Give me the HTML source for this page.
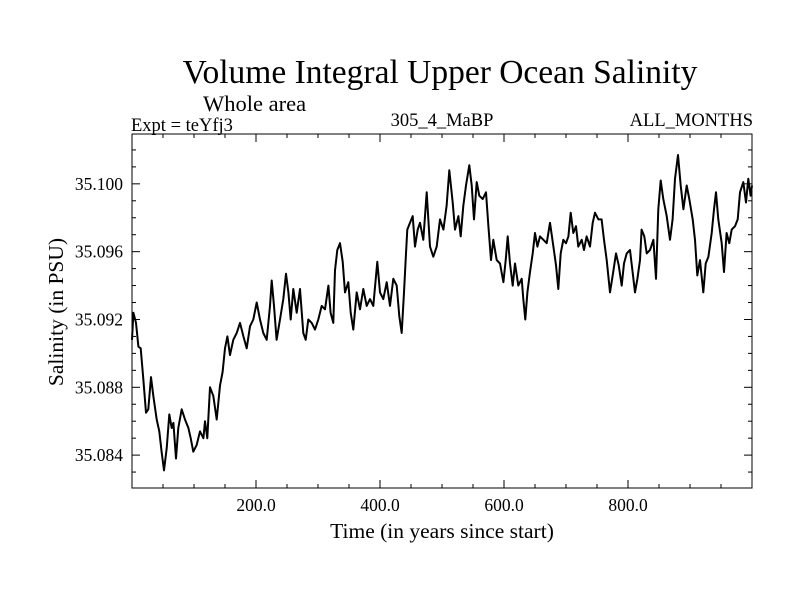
<!DOCTYPE html>
<html><head><meta charset="utf-8"><style>
html,body{margin:0;padding:0;background:#fff}
svg{display:block;font-family:"Liberation Serif",serif}
</style></head><body>
<svg id="chart" width="800" height="600">
<text x="440" y="83" text-anchor="middle" font-size="33.5">Volume Integral Upper Ocean Salinity</text>
<text x="203" y="111" font-size="22.5">Whole area</text>
<text x="131" y="131" font-size="18.5">Expt = teYfj3</text>
<text x="442" y="126" text-anchor="middle" font-size="18.5">305_4_MaBP</text>
<text x="753" y="126" text-anchor="end" font-size="18.5">ALL_MONTHS</text>
<text x="442" y="538" text-anchor="middle" font-size="21.5">Time (in years since start)</text>
<text transform="translate(63,312) rotate(-90)" text-anchor="middle" font-size="21.5">Salinity (in PSU)</text>
<g id="axes"></g>
<path id="series" fill="none" stroke="#000" stroke-width="2" stroke-linejoin="round"></path>
<rect x="132" y="134" width="620" height="354" fill="none" stroke="#000" stroke-width="1"></rect>
</svg>
<script>
const years = [0,2.2,6.5,10.3,14,18.3,22.6,26.3,30.6,34.4,39.8,44.1,47.8,51.6,55.9,60.2,64,66.7,71,74.7,80.1,85.5,90.9,94.6,98.9,104.3,109.7,115.1,117.7,121.5,125.8,131.2,136.6,141.9,146.2,150,153.8,158.1,163.4,168.8,174.2,179.6,185,190.3,195.7,201.1,206.5,211.8,217.2,222.6,225.3,229,233.3,238.7,244.1,248.4,252.2,255.9,260.2,265.6,271,276.3,280.1,284.4,289.8,295.2,300.5,305.9,311.3,316.7,320.4,324.7,327.4,331.2,335.5,339.8,343.5,348.9,352.7,357,362.4,367.7,373.1,378.5,383.9,389.2,395.7,400,405.4,410.8,416.1,421.5,426.9,431.2,435,438.7,441.9,444.1,448.4,452.7,456.5,460.8,464.5,469.9,475.3,480.6,486,491.4,496.8,502.2,507.5,511.8,517.2,521,526.4,530.1,534.4,538.7,544.1,547.9,551.6,556,560.2,565.6,571,574.8,579.1,582.8,588.2,593.6,599,602.7,606,609.7,614,617.8,623.1,628.5,631.2,634.4,637.7,642,646.3,650,653.8,658.1,663.5,668.8,674.2,679.6,683.9,687.6,691.4,695.7,700,703.8,707.5,711.8,716.1,719.9,725.3,729,733.3,738.7,743,746.8,752.2,757.5,761.3,765.6,771,775.3,780.7,785,789.8,793.6,797.9,803.2,807.5,811.3,815.1,819.4,822,826.3,830.1,835.5,840.9,845.2,848.9,852.7,857,862.4,867.7,872,875.8,880.6,885,889.3,894.6,898.9,904.3,908.1,911.8,916.1,921.5,925.3,929.6,935,938.7,942,945.7,951.1,954.8,959.1,963.4,967.2,972.6,976.9,980.6,986,990.3,994.1,997.8,1000];
const salinity = [35.0908,35.0924,35.0918,35.0904,35.0903,35.0885,35.0865,35.0867,35.0886,35.0875,35.0861,35.0854,35.0842,35.0831,35.0844,35.0864,35.0856,35.0859,35.0838,35.0856,35.0867,35.0861,35.0856,35.0850,35.0842,35.0846,35.0854,35.0850,35.0860,35.0850,35.0880,35.0875,35.0861,35.0881,35.0889,35.0903,35.0910,35.0899,35.0908,35.0912,35.0918,35.0910,35.0903,35.0916,35.0920,35.0930,35.0920,35.0912,35.0908,35.0928,35.0943,35.0928,35.0908,35.0920,35.0932,35.0947,35.0936,35.0920,35.0938,35.0924,35.0938,35.0912,35.0908,35.0920,35.0918,35.0914,35.0920,35.0928,35.0926,35.0940,35.0924,35.0918,35.0949,35.0961,35.0965,35.0954,35.0936,35.0942,35.0924,35.0914,35.0936,35.0926,35.0938,35.0928,35.0932,35.0928,35.0954,35.0936,35.0932,35.0942,35.0928,35.0944,35.0940,35.0922,35.0912,35.0936,35.0959,35.0973,35.0977,35.0981,35.0963,35.0973,35.0977,35.0967,35.0995,35.0963,35.0957,35.0963,35.0979,35.0973,35.0987,35.1008,35.0989,35.0973,35.0981,35.0969,35.0987,35.0999,35.1011,35.0999,35.0979,35.1001,35.0993,35.0991,35.0995,35.0975,35.0955,35.0967,35.0955,35.0953,35.0942,35.0955,35.0969,35.0953,35.0940,35.0953,35.0940,35.0944,35.0932,35.0920,35.0936,35.0948,35.0959,35.0971,35.0963,35.0969,35.0967,35.0965,35.0977,35.0963,35.0952,35.0938,35.0959,35.0967,35.0965,35.0969,35.0983,35.0971,35.0975,35.0963,35.0967,35.0961,35.0969,35.0963,35.0977,35.0983,35.0979,35.0979,35.0967,35.0955,35.0936,35.0946,35.0959,35.0952,35.0940,35.0953,35.0959,35.0961,35.0948,35.0936,35.0944,35.0955,35.0973,35.0969,35.0959,35.0961,35.0967,35.0944,35.0985,35.1002,35.0991,35.0981,35.0967,35.0979,35.1003,35.1017,35.0999,35.0985,35.0999,35.0991,35.0979,35.0967,35.0946,35.0955,35.0936,35.0953,35.0957,35.0971,35.0985,35.0995,35.0979,35.0965,35.0948,35.0971,35.0965,35.0973,35.0975,35.0979,35.0995,35.1001,35.0989,35.1003,35.0993,35.0999];
const xTicks = [200,400,600,800];
const xTickLabels = ["200.0","400.0","600.0","800.0"];
const yTicks = [35.084,35.088,35.092,35.096,35.100];
const yTickLabels = ["35.084","35.088","35.092","35.096","35.100"];

const L=132,R=752,T=134,B=488;
const X0=0,X1=1000,Y0=35.08206,Y1=35.10294;
function xs(v){return L+(v-X0)/(X1-X0)*(R-L);}
function ys(v){return B-(v-Y0)/(Y1-Y0)*(B-T);}
const NS="http://www.w3.org/2000/svg";
const axes=document.getElementById('axes');
function line(x1,y1,x2,y2,name){
  const l=document.createElementNS(NS,'line');
  l.setAttribute('x1',x1);l.setAttribute('y1',y1);l.setAttribute('x2',x2);l.setAttribute('y2',y2);
  l.setAttribute('stroke','#000');l.setAttribute('stroke-width','1');
  
  
  axes.appendChild(l);
}
function label(x,y,txt,anchor,name){
  const t=document.createElementNS(NS,'text');
  t.setAttribute('x',x);t.setAttribute('y',y);t.setAttribute('font-size','17.5');t.setAttribute('text-anchor',anchor);
  t.textContent=txt;
  
  
  axes.appendChild(t);
}
for(let v=50;v<1000;v+=50){
  const x=xs(v);const major=v%200===0;
  line(x,B,x,B-(major?8:4),'x-tick');
  line(x,T,x,T+(major?8:4),'x-tick-top');
}
xTicks.forEach((v,i)=>label(xs(v),511,xTickLabels[i],'middle','x-tick-label'));
for(let k=83;k<=102;k++){
  const v=35+k/1000;const y=ys(v);const major=k%4===0;
  line(L,y,L+(major?8:4),y,'y-tick');
  line(R,y,R-(major?8:4),y,'y-tick-right');
}
yTicks.forEach((v,i)=>label(123,ys(v)+6,yTickLabels[i],'end','y-tick-label'));
let d='';
years.forEach((yr,i)=>{d+=(i?'L':'M')+xs(yr).toFixed(1)+','+ys(salinity[i]).toFixed(1);});
document.getElementById('series').setAttribute('d',d);
</script>
</body></html>
